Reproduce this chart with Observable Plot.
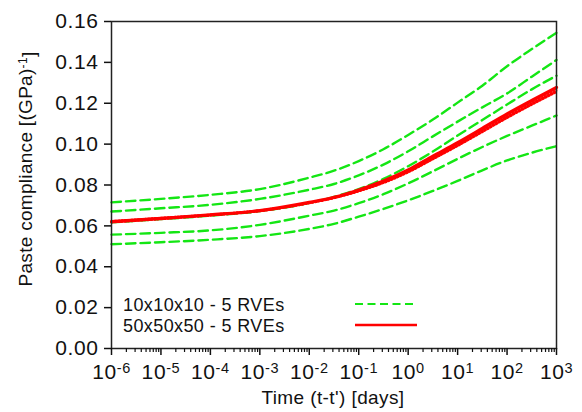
<!DOCTYPE html>
<html>
<head>
<meta charset="utf-8">
<script src="https://cdn.jsdelivr.net/npm/d3@7"></script>
<script src="https://cdn.jsdelivr.net/npm/@observablehq/plot@0.6"></script>
<style>
  body { margin: 0; background: #fff; }
  #chart { position: relative; width: 582px; height: 412px; }
  svg { font-family: "Liberation Sans", Arial, Helvetica, sans-serif; }
</style>
</head>
<body>
<div id="chart"></div>
<script>
// decades of time (t-t') in days
const decades = [-6, -5, -4, -3, -2, -1.5, -1, -0.5, 0, 0.5, 1, 1.5, 2, 2.5, 3];

// 10x10x10 - 5 RVEs (green dashed)
const green1 = [0.0715, 0.0732, 0.0752, 0.0780, 0.0836, 0.0870, 0.0917, 0.0975, 0.1045, 0.1120, 0.1203, 0.1286, 0.1381, 0.1465, 0.1545];
const green2 = [0.0670, 0.0686, 0.0703, 0.0732, 0.0777, 0.0805, 0.0847, 0.0900, 0.0965, 0.1038, 0.1110, 0.1180, 0.1248, 0.1330, 0.1412];
const green3 = [0.0617, 0.0633, 0.0650, 0.0672, 0.0712, 0.0742, 0.0780, 0.0830, 0.0892, 0.0964, 0.1042, 0.1118, 0.1194, 0.1268, 0.1335];
const green4 = [0.0557, 0.0566, 0.0578, 0.0605, 0.0650, 0.0675, 0.0711, 0.0755, 0.0808, 0.0867, 0.0928, 0.0986, 0.1040, 0.1090, 0.1140];
const green5 = [0.0510, 0.0520, 0.0532, 0.0550, 0.0585, 0.0610, 0.0645, 0.0683, 0.0725, 0.0771, 0.0820, 0.0872, 0.0920, 0.0958, 0.0990];

// 50x50x50 - 5 RVEs (red)
const red1 = [0.0621, 0.0637, 0.0654, 0.0675, 0.0715, 0.0740, 0.0776, 0.0820, 0.0874, 0.0941, 0.1007, 0.1077, 0.1148, 0.1214, 0.1278];
const red2 = [0.0618, 0.0635, 0.0652, 0.0673, 0.0712, 0.0737, 0.0771, 0.0813, 0.0866, 0.0931, 0.0996, 0.1066, 0.1135, 0.1200, 0.1262];
const red3 = [0.0624, 0.0640, 0.0656, 0.0677, 0.0713, 0.0736, 0.0768, 0.0809, 0.0861, 0.0925, 0.0990, 0.1058, 0.1127, 0.1192, 0.1254];
const red4 = [0.0622, 0.0638, 0.0655, 0.0676, 0.0714, 0.0739, 0.0773, 0.0816, 0.0870, 0.0936, 0.1002, 0.1072, 0.1142, 0.1207, 0.1270];
const red5 = [0.0616, 0.0632, 0.0650, 0.0671, 0.0710, 0.0735, 0.0770, 0.0812, 0.0864, 0.0928, 0.0993, 0.1062, 0.1131, 0.1196, 0.1258];

const yTicks = [0, 0.02, 0.04, 0.06, 0.08, 0.10, 0.12, 0.14, 0.16];
const xMajor = [1e-6, 1e-5, 1e-4, 1e-3, 1e-2, 1e-1, 1e0, 1e1, 1e2, 1e3];
const xMinor = [];
for (let e = -6; e < 3; e++) for (let m = 2; m <= 9; m++) xMinor.push(m * Math.pow(10, e));

const legendLabels = ["10x10x10 - 5 RVEs", "50x50x50 - 5 RVEs"];
const GREEN = "#14e614";
const RED = "#ff0000";

const toRows = (vals, id) => vals.map((v, i) => ({t: Math.pow(10, decades[i]), c: v, id}));
const greens = [green1, green2, green3, green4, green5].flatMap((s, i) => toRows(s, "g" + i));
const redDots = [red2, red3, red4, red5].flatMap((s, i) => toRows(s, "r" + i));
const redSolid = toRows(red1, "r");

const plot = Plot.plot({
  width: 582,
  height: 412,
  marginLeft: 111,
  marginRight: 26,
  marginTop: 21,
  marginBottom: 64,
  style: {fontFamily: '"Liberation Sans", Arial, sans-serif', color: "#111"},
  x: {type: "log", domain: [1e-6, 1e3]},
  y: {domain: [0, 0.16]},
  marks: [
    Plot.line(greens, {x: "t", y: "c", z: "id", stroke: GREEN, strokeWidth: 2.4, strokeDasharray: "9.5,5", curve: "monotone-x"}),
    Plot.line(redDots, {x: "t", y: "c", z: "id", stroke: RED, strokeWidth: 1.8, strokeDasharray: "1.5,1.8", curve: "monotone-x"}),
    Plot.line(redSolid, {x: "t", y: "c", stroke: RED, strokeWidth: 3.2, curve: "monotone-x"}),
    Plot.frame({stroke: "#222", strokeWidth: 1.5}),
    Plot.axisY(yTicks, {tickSize: 7, tickPadding: 6, tickFormat: d3.format(".2f"), fontSize: 21, label: null, strokeWidth: 1.5}),
    Plot.axisX(xMinor, {tickSize: 4, tickFormat: () => "", label: null, strokeWidth: 1.2}),
    Plot.axisX(xMajor, {tickSize: 7, tickPadding: 9, tickFormat: d => "10^" + Math.round(Math.log10(d)), fontSize: 21, label: null, strokeWidth: 1.5})
  ]
});

document.getElementById("chart").appendChild(plot);
const svg = d3.select(plot);

// slightly widen tick labels like the reference
svg.selectAll('g[aria-label="y-axis tick label"] text, g[aria-label="x-axis tick label"] text')
  .attr("letter-spacing", "0.6");

// superscripts for x tick labels
svg.selectAll("text").each(function () {
  const s = this.textContent;
  if (/^10\^-?\d+$/.test(s)) {
    const exp = s.split("^")[1];
    const sel = d3.select(this);
    sel.text(null);
    sel.append("tspan").text("10");
    sel.append("tspan").attr("dy", "-0.45em").attr("font-size", "14.5").text(exp);
  }
});

// axis labels
const yl = svg.append("text")
  .attr("transform", "translate(32,169) rotate(-90)")
  .attr("text-anchor", "middle")
  .attr("font-size", 19)
  .attr("letter-spacing", "0.3")
  .attr("fill", "#111");
yl.append("tspan").text("Paste compliance [(GPa)");
yl.append("tspan").attr("dy", "-0.45em").attr("font-size", 12).text("-1");
yl.append("tspan").attr("dy", "0.45em").text("]");

svg.append("text")
  .attr("x", 333).attr("y", 404)
  .attr("text-anchor", "middle")
  .attr("font-size", 19)
  .attr("letter-spacing", "0.4")
  .attr("fill", "#111")
  .text("Time (t-t') [days]");

// legend
const lg = svg.append("g").attr("text-anchor", "start");
lg.append("text").attr("x", 123).attr("y", 311).attr("font-size", 18).attr("letter-spacing", "0.4").attr("fill", "#111").text(legendLabels[0]);
lg.append("text").attr("x", 123).attr("y", 332).attr("font-size", 18).attr("letter-spacing", "0.4").attr("fill", "#111").text(legendLabels[1]);
lg.append("line").attr("x1", 355).attr("x2", 417).attr("y1", 304).attr("y2", 304)
  .attr("stroke", GREEN).attr("stroke-width", 2.2).attr("stroke-dasharray", "8,4.5");
lg.append("line").attr("x1", 355).attr("x2", 417).attr("y1", 325).attr("y2", 325)
  .attr("stroke", RED).attr("stroke-width", 2.4);
</script>
</body>
</html>
